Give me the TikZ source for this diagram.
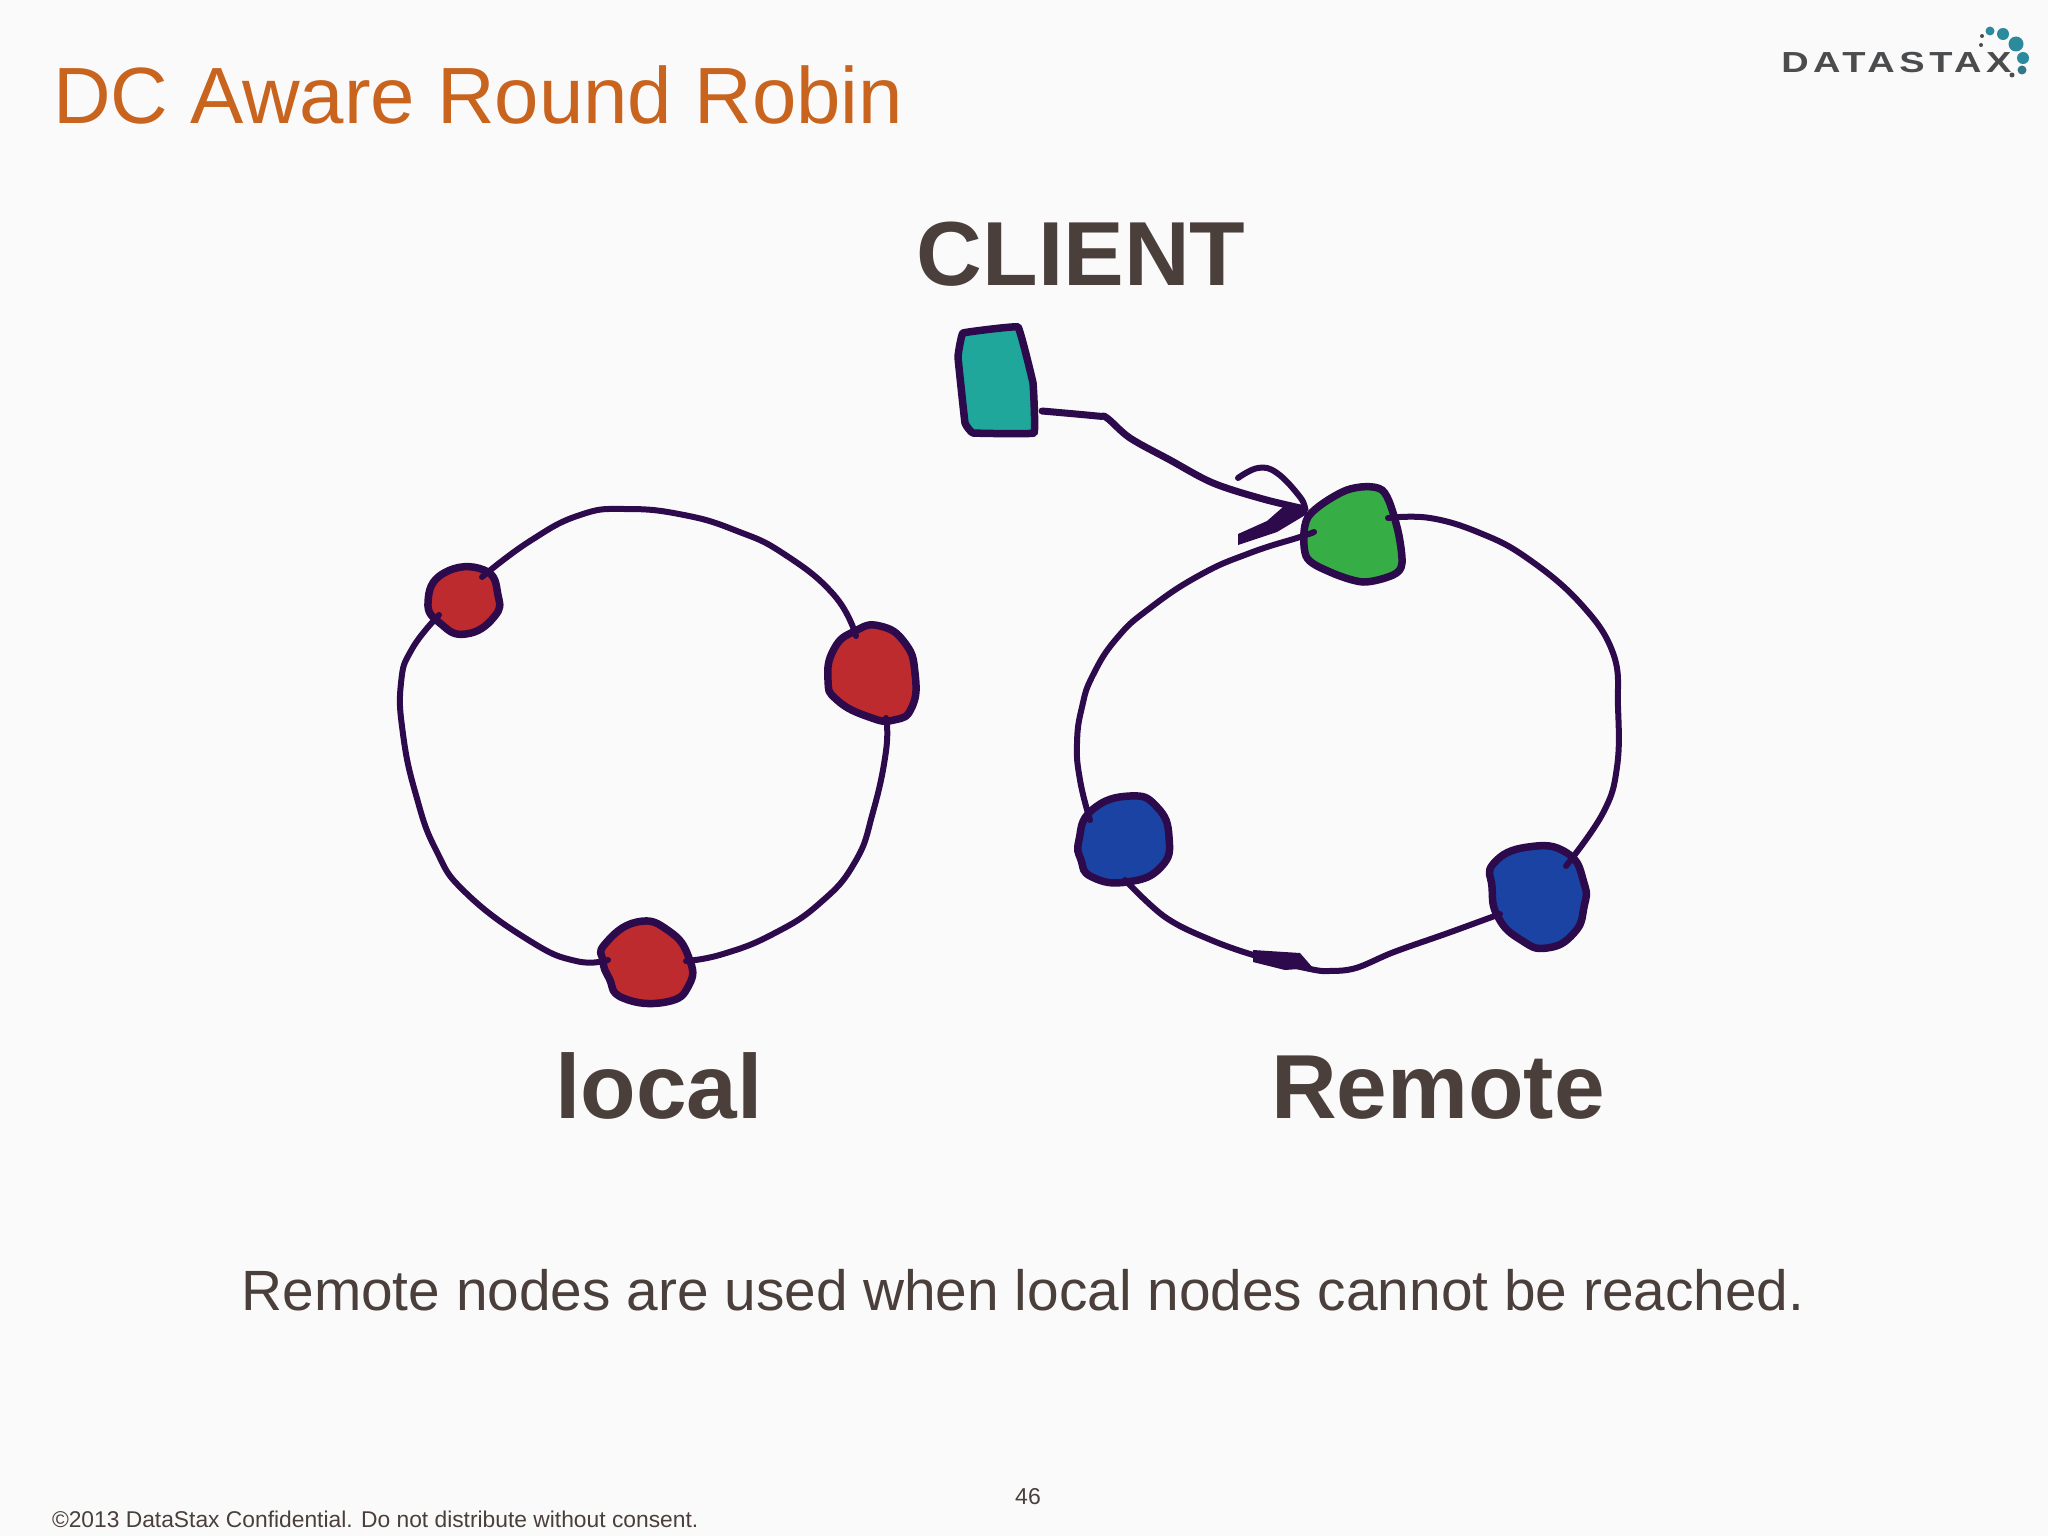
\documentclass[tikz,border=0pt]{standalone}
\usepackage{fontspec}
\setmainfont{Liberation Sans}
\newfontfamily\logofont[LetterSpace=12]{Liberation Sans}
\definecolor{bgc}{HTML}{FBFAFB}
\definecolor{ink}{HTML}{2C0A4C}
\definecolor{titlec}{HTML}{C8641E}
\definecolor{textc}{HTML}{4A3F3B}
\definecolor{tealc}{HTML}{20A79B}
\definecolor{greenc}{HTML}{36AE45}
\definecolor{redc}{HTML}{BE2B2F}
\definecolor{bluec}{HTML}{1B43A3}
\definecolor{logot}{HTML}{2B8A9C}
\definecolor{logog}{HTML}{4A4C4E}
\tikzset{
  blob/.style={draw=ink,line width=7.5pt,line join=round},
  ring/.style={draw=ink,line width=6pt,line cap=round,line join=round},
  txt/.style={inner sep=0pt,outer sep=0pt,text=textc},
  bigbold/.style={txt,anchor=base,font=\fontsize{91}{91}\selectfont\bfseries},
}
\begin{document}
\begin{tikzpicture}[x=1pt,y=-1pt]
\useasboundingbox (0,0) rectangle (2048,1536);
\fill[bgc] (0,0) rectangle (2048,1536);

% texts
\node[txt,anchor=base west,text=titlec,font=\fontsize{79.8}{80}\selectfont] (title) at (53,124) {DC Aware Round Robin};
\node[bigbold] (client) at (1081,285) {CLIENT};
\node[bigbold] (local) at (659,1118) {local};
\node[bigbold] (remote) at (1438,1118) {Remote};
\node[txt,anchor=base,font=\fontsize{56.8}{57}\selectfont] (note) at (1023,1310) {Remote nodes are used when local nodes cannot be reached.};
\node[txt,anchor=base,font=\fontsize{23}{23}\selectfont] (page) at (1028,1504) {46};
\node[txt,anchor=base west,font=\fontsize{22.8}{23}\selectfont] (legal) at (52,1527) {©2013 DataStax Confidential. Do not distribute without consent.};

% logo
\node[inner sep=0pt,anchor=base west,xscale=1.31,text=logog,font=\logofont\fontsize{29}{29}\selectfont\bfseries] (logo) at (1781,73) {DATASTAX};
\foreach \cx/\cy/\r/\c in {1990/31/4.5/logot,2003/34/6/logot,2016/44/7.5/logot,2023/58/6/logot,2022/70/4.5/logot!70!logog,2012/75/2.5/logog,1982/36/2/logog,1981/45/2/logog}
  \fill[\c] (\cx,\cy) circle[radius=\r];

% attachment points
\coordinate (clientOut) at (1042,411);
\coordinate (greenIn) at (1305,509);
\coordinate (greenE) at (1388,518);
\coordinate (greenW) at (1314,532);
\coordinate (blueTwoNE) at (1566,866);
\coordinate (blueTwoW) at (1500,914);
\coordinate (blueOneS) at (1125,880);
\coordinate (blueOneNW) at (1090,820);
\coordinate (redSE) at (886,718);
\coordinate (redNW) at (856,636);
\coordinate (redBotE) at (686,961);
\coordinate (redBotW) at (608,960);
\coordinate (redSmallNE) at (482,577);
\coordinate (redSmallSW) at (439,615);

% blobs
\draw[blob,fill=tealc] plot[smooth cycle,tension=0.1] coordinates {(963,333) (1018,327) (1033,383) (1034,433) (973,433) (965,423) (958,357)};
\draw[blob,fill=greenc] plot[smooth cycle,tension=0.5] coordinates {(1308,517) (1347,490) (1382,490) (1397,527) (1402,563) (1393,575) (1363,582) (1330,572) (1306,556)};
\draw[blob,fill=redc] plot[smooth cycle,tension=0.85] coordinates {(428,602) (444,573) (484,570) (498,595) (494,617) (466,634) (441,624)};
\draw[blob,fill=redc] plot[smooth cycle,tension=0.85] coordinates {(855,631) (880,626) (905,643) (915,673) (912,707) (894,720) (869,717) (837,700) (828,680) (834,649)};
\draw[blob,fill=redc] plot[smooth cycle,tension=0.85] coordinates {(605,944) (637,922) (669,931) (689,958) (689,985) (666,1002) (623,998) (609,978) (603,961)};
\draw[blob,fill=bluec] plot[smooth cycle,tension=0.85] coordinates {(1079,840) (1092,810) (1130,796) (1157,807) (1169,837) (1161,867) (1127,882) (1092,877) (1081,860)};
\draw[blob,fill=bluec] plot[smooth cycle,tension=0.85] coordinates {(1492,887) (1494,863) (1528,847) (1567,853) (1584,883) (1584,907) (1574,933) (1547,948) (1521,940) (1498,917)};

% rings
\draw[ring] plot[smooth,tension=0.8] coordinates {(redSmallNE) (530,541) (580,515) (626,509) (684,515) (737,531) (784,554) (834,595) (redNW)};
\draw[ring] plot[smooth,tension=0.8] coordinates {(redSE) (886,751) (873,812) (855,862) (820,903) (773,934) (723,954) (redBotE)};
\draw[ring] plot[smooth,tension=0.8] coordinates {(redBotW) (576,961) (530,941) (466,893) (436,850) (416,795) (403,734) (401,683) (412,649) (redSmallSW)};
\draw[ring] plot[smooth,tension=0.7] coordinates {(greenE) (1430,518) (1480,533) (1527,558) (1580,603) (1613,653) (1618,707) (1617,767) (1603,813) (blueTwoNE)};
\draw[ring] plot[smooth,tension=0.6] coordinates {(blueTwoW) (1448,933) (1394,952) (1356,968) (1329,971) (1310,969) (1260,957) (1211,940) (1165,917) (blueOneS)};
\draw[ring] plot[smooth,tension=0.8] coordinates {(blueOneNW) (1080,780) (1077,743) (1082,707) (1093,675) (1117,638) (1150,608) (1200,575) (1250,553) (1300,537) (greenW)};

% thick part of the bottom stroke
\fill[ink] (1253,950) -- (1300,953) -- (1313,968) -- (1285,970) -- (1253,962) -- cycle;

% client arrow
\draw[ring,line width=7pt] plot[smooth,tension=0.55] coordinates {(clientOut) (1097,416) (1107,418) (1130,438) (1170,460) (1213,483) (1263,499) (greenIn)};
\draw[ring] plot[smooth,tension=0.7] coordinates {(1238,478) (1258,468) (1277,473) (1300,497) (greenIn)};
\fill[ink] (1238,534) -- (1267,521) -- (1283,507) -- (1307,506) -- (1307,514) -- (1277,532) -- (1238,545) -- cycle;
\end{tikzpicture}
\end{document}
